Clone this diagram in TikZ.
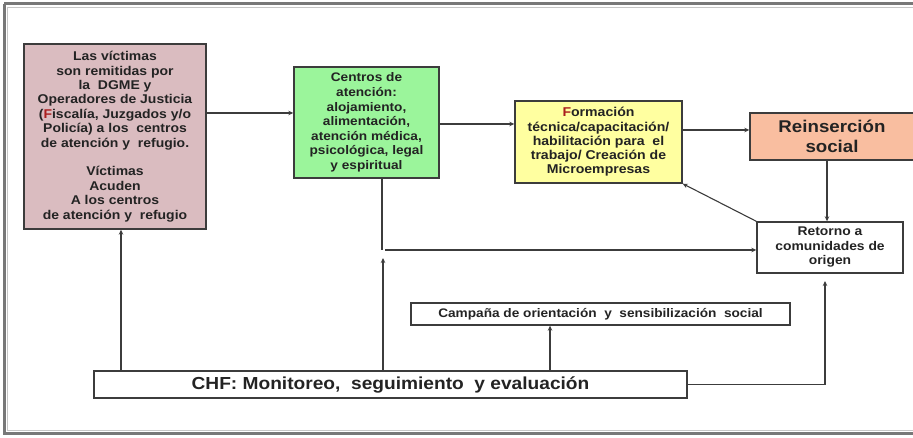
\documentclass[tikz,border=0pt]{standalone}
\usepackage{fontspec}
\setmainfont{Liberation Sans}[FakeStretch=1.1]
\usetikzlibrary{arrows.meta}
\definecolor{pinkfill}{RGB}{218,188,192}
\definecolor{greenfill}{RGB}{155,245,155}
\definecolor{yellowfill}{RGB}{255,255,160}
\definecolor{salmonfill}{RGB}{249,190,160}
\definecolor{edge}{RGB}{60,60,60}
\definecolor{txt}{RGB}{35,35,35}
\definecolor{redl}{RGB}{170,30,30}
\definecolor{frameg}{RGB}{120,120,120}
\begin{document}
\begin{tikzpicture}[x=1pt,y=-1pt,
  box/.style={draw=edge,line width=1.4pt,rectangle,inner sep=0pt,align=center,text=txt,font=\bfseries},
  conn/.style={draw=edge,line width=1.1pt},
  arr/.style={conn,-{Stealth[length=5pt,width=4.5pt]}}]
\useasboundingbox (0,0) rectangle (913,438);
% outer frame
\draw[frameg,line width=3pt] (4,4) -- (920,4);
\draw[frameg,line width=3pt] (4,4) -- (4,433) -- (920,433);
\draw[gray!45,line width=0.8pt] (7,7) -- (920,7);
\draw[gray!45,line width=0.8pt] (7,7) -- (7,430) -- (920,430);

\node[box,fill=pinkfill,minimum width=182pt,minimum height=185pt,
  font=\bfseries\fontsize{12.7}{14.4}\selectfont] (pink) at (115,136.5)
  {Las víctimas\\son remitidas por\\la \ DGME y\\Operadores de Justicia\\(\textcolor{redl}{F}iscalía, Juzgados y/o\\Policía) a los \ centros\\de atención y \ refugio.\\[14.4pt]Víctimas\\Acuden\\A los centros\\de atención y \ refugio};

\node[box,fill=greenfill,minimum width=145pt,minimum height=111pt,
  font=\bfseries\fontsize{12.4}{14.6}\selectfont] (green) at (366.5,122.5)
  {Centros de\\atención:\\alojamiento,\\alimentación,\\atención médica,\\psicológica, legal\\y espiritual};

\node[box,fill=yellowfill,minimum width=167pt,minimum height=82pt,
  font=\bfseries\fontsize{12.8}{14.3}\selectfont] (yellow) at (598.5,142)
  {\textcolor{redl}{F}ormación\\técnica/capacitación/\\habilitación para \ el\\trabajo/ Creación de\\Microempresas};

\node[box,fill=salmonfill,minimum width=164pt,minimum height=47pt,
  font=\bfseries\fontsize{17}{20}\selectfont] (reins) at (832,136.5)
  {Reinserción\\social};

\node[box,fill=white,minimum width=146pt,minimum height=51pt,
  font=\bfseries\fontsize{12.6}{14.5}\selectfont] (ret) at (830,247.5)
  {Retorno a\\comunidades de\\origen};

\node[box,fill=white,minimum width=379pt,minimum height=22pt,
  font=\bfseries\fontsize{12.4}{14}\selectfont] (camp) at (600.5,314)
  {Campaña de orientación \ y \ sensibilización \ social};

\node[box,fill=white,minimum width=593pt,minimum height=27pt,
  font=\bfseries\fontsize{17.4}{18}\selectfont] (chf) at (390.5,384.5)
  {CHF: Monitoreo, \ seguimiento \ y evaluación};

% connectors
\draw[arr] (pink.east |- 0,113) -- (green.west |- 0,113);
\draw[arr] (green.east |- 0,124) -- (yellow.west |- 0,124);
\draw[arr] (yellow.east |- 0,130) -- (reins.west |- 0,130);
\draw[arr] (reins.south -| 827,0) -- (ret.north -| 827,0);
\draw[arr] (ret.north west) -- (yellow.south east);
\coordinate (gturn) at (382,250);
\draw[conn] (green.south -| gturn) -- (gturn);
\coordinate (hstart) at (385,250);
\draw[arr] (hstart) -- (ret.west |- hstart);
\coordinate (vtip) at (383,258);
\draw[arr] (chf.north -| vtip) -- (vtip);
\draw[arr] (chf.north -| 121,0) -- (pink.south -| 121,0);
\draw[arr] (chf.north -| 550,0) -- (camp.south -| 550,0);
\coordinate (rtip) at (825,281);
\draw[arr] (chf.east) -- (chf.east -| rtip) -- (rtip);
\end{tikzpicture}
\end{document}
